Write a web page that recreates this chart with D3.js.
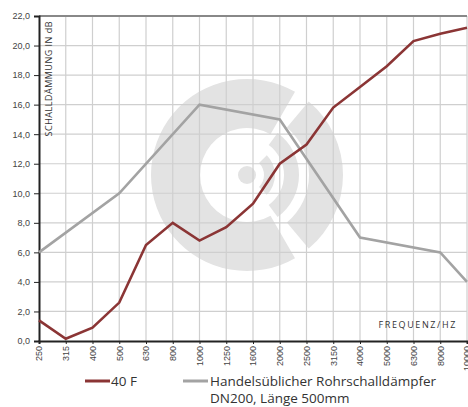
<!DOCTYPE html>
<html>
<head>
<meta charset="utf-8">
<script src="https://cdn.jsdelivr.net/npm/d3@7"></script>
<style>
  body { margin: 0; background: #fff; }
  svg { display: block; font-family: 'Open Sans', 'Noto Sans', sans-serif; }
</style>
</head>
<body>
<svg id="chart" width="468" height="407"></svg>
<script>
const frequencies = ['250', '315', '400', '500', '630', '800', '1000', '1250', '1600', '2000',
  '2500', '3150', '4000', '5000', '6300', '8000', '10000']
const series40F = [1.4, 0.15, 0.9, 2.6, 6.5, 8.0, 6.8, 7.7, 9.3, 12.0, 13.3, 15.8, 17.2, 18.6, 20.3, 20.8, 21.2]
// grey curve is made of straight segments, only its corner points are read
const standardFreq = ['250', '500', '1000', '2000', '4000', '8000', '10000']
const standardValues = [6.0, 10.0, 16.0, 15.0, 7.0, 6.0, 4.0]
const yTicks = [0, 2, 4, 6, 8, 10, 12, 14, 16, 18, 20, 22]
const legendLabels = ['40 F', 'Handelsüblicher Rohrschalldämpfer', 'DN200, Länge 500mm']

const svg = d3.select('#chart')
const plotLeft = 39, plotRight = 467, plotTop = 16, plotBottom = 341

const x = d3.scalePoint().domain(frequencies).range([plotLeft, plotRight])
const y = d3.scaleLinear().domain([0, 22]).range([plotBottom, plotTop])

// watermark logo
const cx = 247, cy = 175
const logo = svg.append('g').attr('transform', `translate(${cx},${cy})`).attr('fill', '#e3e3e3')
const arc = d3.arc()
const deg = Math.PI / 180
logo.append('circle').attr('r', 9)
logo.append('path').attr('d', arc({ innerRadius: 47, outerRadius: 96, startAngle: 150 * deg, endAngle: 390 * deg }))
logo.append('path').attr('d', arc({ innerRadius: 17, outerRadius: 28, startAngle: 45 * deg, endAngle: 135 * deg }))
logo.append('path').attr('d', arc({ innerRadius: 37, outerRadius: 52, startAngle: 36 * deg, endAngle: 144 * deg }))
logo.append('path').attr('d', arc({ innerRadius: 62, outerRadius: 96, startAngle: 40 * deg, endAngle: 140 * deg }))

// grid
svg.append('g')
  .selectAll('line')
  .data(frequencies.slice(1))
  .join('line')
  .attr('x1', d => x(d)).attr('x2', d => x(d))
  .attr('y1', plotTop).attr('y2', plotBottom)
  .attr('stroke', '#cfcfcf').attr('stroke-width', 1.2)

svg.append('g')
  .selectAll('line')
  .data(yTicks.slice(1, -1))
  .join('line')
  .attr('x1', plotLeft).attr('x2', plotRight)
  .attr('y1', d => y(d)).attr('y2', d => y(d))
  .attr('stroke', '#cfcfcf').attr('stroke-width', 1.2)

svg.append('line')
  .attr('x1', plotLeft).attr('x2', plotRight).attr('y1', plotTop).attr('y2', plotTop)
  .attr('stroke', '#888').attr('stroke-width', 2)

// axes
const yAxis = svg.append('g')
  .attr('transform', `translate(${plotLeft},0)`)
  .call(d3.axisLeft(y).tickValues(yTicks).tickSize(5).tickFormat(d => d3.format('.1f')(d).replace('.', ',')))
yAxis.select('.domain').attr('stroke', '#222').attr('stroke-width', 2)
yAxis.selectAll('.tick line').attr('stroke', '#222')
yAxis.selectAll('.tick text').attr('fill', '#444').attr('font-size', 9).attr('x', -9)

const xAxis = svg.append('g')
  .attr('transform', `translate(0,${plotBottom})`)
  .call(d3.axisBottom(x).tickSize(3))
xAxis.select('.domain').attr('stroke', '#222').attr('stroke-width', 2)
xAxis.selectAll('.tick line').attr('stroke', '#222')
xAxis.selectAll('.tick text')
  .attr('fill', '#444').attr('font-size', 9)
  .attr('transform', 'rotate(-90)')
  .attr('x', -5).attr('y', 0).attr('dy', '0.32em')
  .attr('text-anchor', 'end')

// axis titles
svg.append('text')
  .attr('transform', `translate(52,21) rotate(-90)`)
  .attr('text-anchor', 'end')
  .attr('font-size', 9).attr('letter-spacing', 0.5).attr('fill', '#333')
  .text('SCHALLDÄMMUNG IN dB')

svg.append('text')
  .attr('x', 457).attr('y', 328)
  .attr('text-anchor', 'end')
  .attr('font-size', 9).attr('letter-spacing', 1.6).attr('fill', '#333')
  .text('FREQUENZ/HZ')

// lines
const line = d3.line().x(d => x(d[0])).y(d => y(d[1]))

svg.append('path')
  .datum(standardFreq.map((f, i) => [f, standardValues[i]]))
  .attr('d', line)
  .attr('fill', 'none').attr('stroke', '#a3a3a3').attr('stroke-width', 2.6)

svg.append('path')
  .datum(frequencies.map((f, i) => [f, series40F[i]]))
  .attr('d', line)
  .attr('fill', 'none').attr('stroke', '#8b3535').attr('stroke-width', 2.6)

// legend
const legend = svg.append('g').attr('font-size', 13.5).attr('fill', '#333')
legend.append('line').attr('x1', 85).attr('x2', 110).attr('y1', 381).attr('y2', 381)
  .attr('stroke', '#8b3535').attr('stroke-width', 3)
legend.append('text').attr('x', 111).attr('y', 386).text(legendLabels[0])
legend.append('line').attr('x1', 183).attr('x2', 208).attr('y1', 381).attr('y2', 381)
  .attr('stroke', '#a3a3a3').attr('stroke-width', 3)
legend.append('text').attr('x', 210).attr('y', 386).text(legendLabels[1])
legend.append('text').attr('x', 210).attr('y', 403).text(legendLabels[2])
</script>
</body>
</html>
